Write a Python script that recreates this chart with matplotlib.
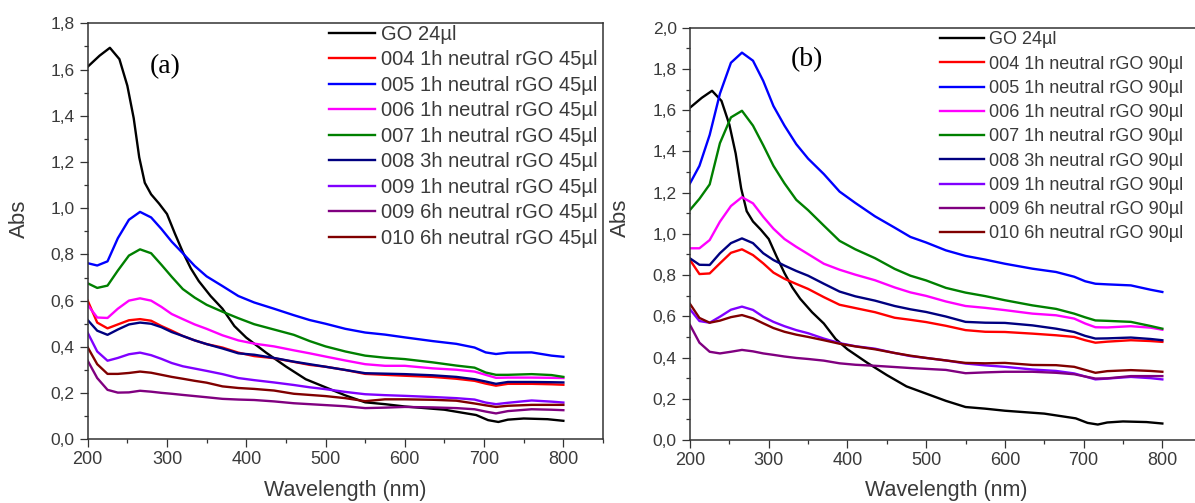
import matplotlib
matplotlib.use("Agg")
import matplotlib.pyplot as plt
from matplotlib.ticker import MultipleLocator, FuncFormatter

# ---------------- data ----------------
# GO reference spectrum (same in both panels)
go_wl = [200, 215, 228, 240, 250, 258, 265, 272, 280, 290, 300, 310, 320, 330, 340,
         355, 370, 385, 400, 425, 450, 475, 500, 525, 550, 575, 600, 650, 690, 705,
         718, 730, 750, 780, 800]
go_abs = [1.612, 1.66, 1.694, 1.645, 1.53, 1.39, 1.22, 1.11, 1.06, 1.02, 0.975, 0.89,
          0.81, 0.74, 0.685, 0.62, 0.565, 0.49, 0.44, 0.375, 0.315, 0.26, 0.225, 0.19,
          0.16, 0.152, 0.142, 0.128, 0.105, 0.083, 0.075, 0.085, 0.09, 0.087, 0.08]

# common wavelength grid for the rGO samples (nm)
wl = [200, 212, 225, 238, 252, 266, 280, 293, 306, 320, 335, 350, 370, 390, 410, 435,
      460, 480, 500, 525, 550, 575, 600, 635, 665, 688, 702, 715, 730, 760, 785, 800]

# panel (a): 45 µl
a_004 = [0.6, 0.505, 0.48, 0.497, 0.515, 0.52, 0.513, 0.49, 0.47, 0.447, 0.428, 0.412,
         0.397, 0.375, 0.36, 0.351, 0.335, 0.322, 0.314, 0.3, 0.283, 0.279, 0.275, 0.27,
         0.262, 0.253, 0.241, 0.232, 0.24, 0.24, 0.238, 0.236]
a_005 = [0.762, 0.752, 0.77, 0.87, 0.95, 0.984, 0.96, 0.91, 0.855, 0.805, 0.75, 0.705,
         0.663, 0.62, 0.592, 0.565, 0.537, 0.516, 0.5, 0.478, 0.462, 0.453, 0.441, 0.425,
         0.413, 0.397, 0.376, 0.369, 0.375, 0.376, 0.362, 0.357]
a_006 = [0.581, 0.527, 0.525, 0.565, 0.6, 0.61, 0.6, 0.573, 0.542, 0.52, 0.497, 0.478,
         0.45, 0.428, 0.414, 0.402, 0.385, 0.372, 0.358, 0.341, 0.325, 0.318, 0.318, 0.307,
         0.301, 0.293, 0.279, 0.266, 0.267, 0.267, 0.266, 0.265]
a_007 = [0.675, 0.655, 0.665, 0.73, 0.795, 0.822, 0.805, 0.755, 0.703, 0.65, 0.613, 0.582,
         0.552, 0.524, 0.498, 0.475, 0.452, 0.425, 0.402, 0.38, 0.362, 0.353, 0.347, 0.333,
         0.319, 0.31, 0.289, 0.279, 0.279, 0.282, 0.278, 0.27]
a_008 = [0.516, 0.47, 0.452, 0.475, 0.497, 0.505, 0.5, 0.485, 0.464, 0.447, 0.428, 0.412,
         0.393, 0.372, 0.366, 0.352, 0.336, 0.325, 0.314, 0.3, 0.286, 0.284, 0.282, 0.277,
         0.27, 0.26, 0.25, 0.24, 0.248, 0.248, 0.247, 0.246]
a_009_1h = [0.461, 0.38, 0.34, 0.352, 0.368, 0.375, 0.364, 0.348, 0.33, 0.316, 0.306, 0.296,
            0.282, 0.265, 0.256, 0.246, 0.235, 0.225, 0.217, 0.205, 0.195, 0.191, 0.188,
            0.183, 0.178, 0.172, 0.159, 0.152, 0.158, 0.168, 0.163, 0.159]
a_009_6h = [0.34, 0.265, 0.214, 0.202, 0.203, 0.21, 0.206, 0.201, 0.197, 0.192, 0.187, 0.182,
            0.175, 0.172, 0.17, 0.164, 0.156, 0.152, 0.148, 0.143, 0.135, 0.137, 0.14,
            0.138, 0.135, 0.13, 0.12, 0.112, 0.122, 0.13, 0.128, 0.126]
a_010 = [0.398, 0.325, 0.283, 0.283, 0.287, 0.293, 0.288, 0.279, 0.27, 0.262, 0.253, 0.245,
         0.229, 0.222, 0.218, 0.211, 0.197, 0.192, 0.187, 0.178, 0.165, 0.173, 0.173, 0.171,
         0.167, 0.155, 0.147, 0.14, 0.145, 0.149, 0.149, 0.149]

# panel (b): 90 µl
b_004 = [0.873, 0.805, 0.808, 0.857, 0.908, 0.925, 0.897, 0.857, 0.812, 0.782, 0.757, 0.733,
         0.693, 0.656, 0.64, 0.62, 0.593, 0.583, 0.572, 0.554, 0.533, 0.525, 0.524, 0.516,
         0.508, 0.5, 0.484, 0.472, 0.477, 0.484, 0.48, 0.476]
b_005 = [1.245, 1.33, 1.48, 1.68, 1.83, 1.879, 1.84, 1.742, 1.62, 1.525, 1.435, 1.365,
         1.29, 1.205, 1.15, 1.085, 1.03, 0.985, 0.958, 0.92, 0.893, 0.875, 0.855, 0.831,
         0.815, 0.792, 0.77, 0.758, 0.755, 0.75, 0.729, 0.718]
b_006 = [0.93, 0.93, 0.97, 1.059, 1.135, 1.178, 1.148, 1.083, 1.025, 0.975, 0.937, 0.902,
         0.855, 0.826, 0.802, 0.775, 0.74, 0.716, 0.699, 0.672, 0.65, 0.641, 0.63, 0.613,
         0.605, 0.589, 0.565, 0.547, 0.546, 0.552, 0.545, 0.535]
b_007 = [1.116, 1.17, 1.24, 1.44, 1.565, 1.597, 1.525, 1.43, 1.33, 1.245, 1.165, 1.115,
         1.04, 0.966, 0.925, 0.882, 0.83, 0.797, 0.774, 0.738, 0.715, 0.698, 0.678, 0.653,
         0.636, 0.613, 0.595, 0.58, 0.578, 0.573, 0.553, 0.54]
b_008 = [0.881, 0.85, 0.849, 0.906, 0.955, 0.978, 0.955, 0.906, 0.873, 0.846, 0.82, 0.797,
         0.758, 0.72, 0.697, 0.676, 0.65, 0.634, 0.621, 0.599, 0.573, 0.569, 0.568, 0.556,
         0.54, 0.524, 0.505, 0.492, 0.493, 0.497, 0.49, 0.484]
b_009_1h = [0.634, 0.577, 0.569, 0.598, 0.632, 0.647, 0.631, 0.598, 0.573, 0.552, 0.533,
            0.518, 0.492, 0.47, 0.455, 0.443, 0.422, 0.407, 0.398, 0.386, 0.371, 0.362,
            0.355, 0.342, 0.335, 0.323, 0.308, 0.294, 0.298, 0.306, 0.3, 0.294]
b_009_6h = [0.558, 0.472, 0.428, 0.42, 0.428, 0.437, 0.43, 0.42, 0.413, 0.405, 0.398, 0.393,
            0.385, 0.372, 0.365, 0.36, 0.354, 0.349, 0.345, 0.34, 0.324, 0.328, 0.331,
            0.331, 0.326, 0.319, 0.308, 0.298, 0.299, 0.31, 0.31, 0.31]
b_010 = [0.66, 0.592, 0.569, 0.579, 0.596, 0.606, 0.59, 0.566, 0.543, 0.525, 0.511, 0.5,
         0.484, 0.467, 0.454, 0.44, 0.422, 0.409, 0.398, 0.386, 0.374, 0.372, 0.374, 0.364,
         0.363, 0.355, 0.34, 0.326, 0.334, 0.339, 0.335, 0.331]

samples = ["004 1h", "005 1h", "006 1h", "007 1h", "008 3h", "009 1h", "009 6h", "010 6h"]
colors = ["#ff0000", "#0000ff", "#ff00ff", "#008000", "#000080", "#8000ff", "#800080", "#800000"]
panel_a = [a_004, a_005, a_006, a_007, a_008, a_009_1h, a_009_6h, a_010]
panel_b = [b_004, b_005, b_006, b_007, b_008, b_009_1h, b_009_6h, b_010]

# ---------------- style ----------------
plt.rcParams["font.family"] = ["Liberation Sans", "DejaVu Sans"]
TXT = "#3a3a3a"
SPINE = "#333333"

W, H = 1195, 503
fig = plt.figure(figsize=(W / 100, H / 100), dpi=100)
fig.patch.set_facecolor("white")


def px_axes(left, bottom_px, width, height):
    """axes rectangle given in pixels (bottom measured from the top edge)"""
    return fig.add_axes([left / W, (H - bottom_px) / H, width / W, height / H])


comma = FuncFormatter(lambda v, p: f"{v:.1f}".replace(".", ","))


def style_axes(ax, ymax):
    ax.set_xlim(200, 850)
    ax.set_ylim(0, ymax)
    ax.xaxis.set_major_locator(MultipleLocator(100))
    ax.xaxis.set_minor_locator(MultipleLocator(50))
    ax.yaxis.set_major_locator(MultipleLocator(0.2))
    ax.yaxis.set_minor_locator(MultipleLocator(0.1))
    ax.yaxis.set_major_formatter(comma)
    ax.set_xticks([200, 300, 400, 500, 600, 700, 800])
    for s in ax.spines.values():
        s.set_color(SPINE)
        s.set_linewidth(1.1)
    ax.tick_params(which="both", direction="out", color=SPINE, width=0.9,
                   top=False, right=False, labelcolor=TXT)
    ax.tick_params(which="major", length=6)
    ax.tick_params(which="minor", length=3)
    ax.tick_params(axis="x", labelsize=13, pad=2.5)
    ax.tick_params(axis="y", labelsize=12.5, pad=3.5)
    ax.set_xlabel("Wavelength (nm)", fontsize=15.5, color=TXT)
    ax.set_ylabel("Abs", fontsize=16, color=TXT)


def draw(ax, series, vol):
    ax.plot(go_wl, go_abs, color="black", lw=1.7, label="GO 24\u00b5l")
    for name, col, ys in zip(samples, colors, series):
        ax.plot(wl, ys, color=col, lw=1.7, label=f"{name} neutral rGO {vol}\u00b5l")


# panel (a)
axa = px_axes(87.7, 439.3, 515.3, 416.0)
draw(axa, panel_a, 45)
style_axes(axa, 1.8)
axa.xaxis.set_label_coords(0.5, -0.098)
axa.yaxis.set_label_coords(-0.112, 0.53)
axa.text(0.15, 0.895, "(a)", transform=axa.transAxes, ha="center", va="center",
         fontsize=20, family=["Liberation Serif", "DejaVu Serif"], color="black")
axa.legend(loc="upper left", bbox_to_anchor=(329 / W, 1 - 25 / H),
           bbox_transform=fig.transFigure, frameon=False, fontsize=14.5,
           handlelength=2.28, handletextpad=0.3, labelspacing=0.32,
           borderpad=0, borderaxespad=0, labelcolor=TXT)

# panel (b)
axb = px_axes(690.0, 440.0, 511.7, 412.3)
draw(axb, panel_b, 90)
style_axes(axb, 2.0)
axb.xaxis.set_label_coords(0.5, -0.097)
axb.yaxis.set_label_coords(-0.115, 0.538)
axb.text(0.229, 0.922, "(b)", transform=axb.transAxes, ha="center", va="center",
         fontsize=20, family=["Liberation Serif", "DejaVu Serif"], color="black")
axb.legend(loc="upper left", bbox_to_anchor=(940 / W, 1 - 31.5 / H),
           bbox_transform=fig.transFigure, frameon=False, fontsize=13,
           handlelength=2.44, handletextpad=0.3, labelspacing=0.4,
           borderpad=0, borderaxespad=0, labelcolor=TXT)

fig.savefig("out.png", dpi=100, facecolor="white")
